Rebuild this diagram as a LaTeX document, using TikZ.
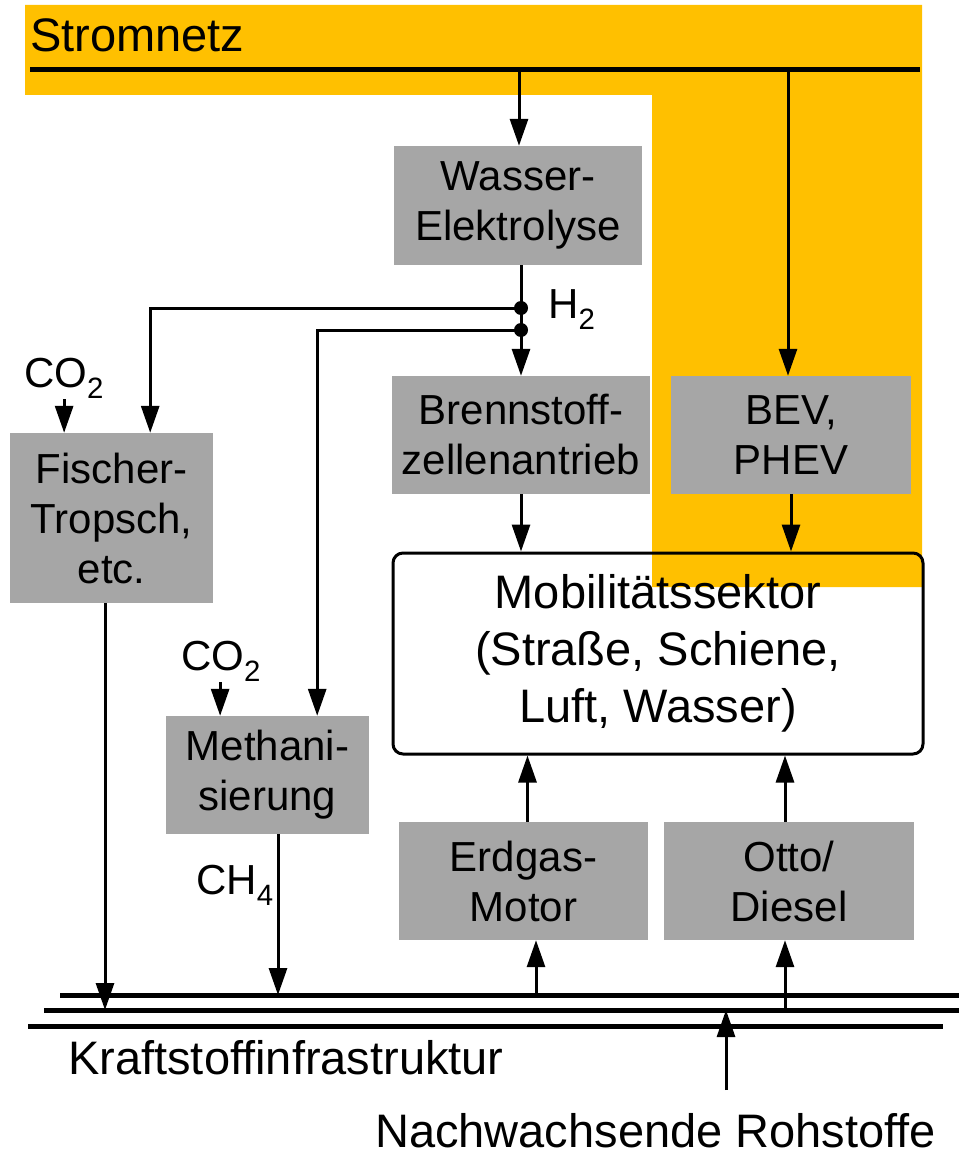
\documentclass[tikz,border=0pt]{standalone}
\usepackage{fontspec}
\setmainfont{Liberation Sans}
\usetikzlibrary{arrows.meta}
\definecolor{stromgelb}{HTML}{FFC000}
\definecolor{kastengrau}{HTML}{A6A6A6}

\begin{document}
\begin{tikzpicture}[x=1pt, y=-1pt,
  kasten/.style={fill=kastengrau, align=center, inner sep=0pt, font=\fontsize{42}{50}\selectfont},
  pfeil/.style={line width=3pt, -{Triangle[length=27pt,width=18pt]}},
  linie/.style={line width=3pt},
  schiene/.style={line width=5pt},
  marke/.style={inner sep=0pt, font=\fontsize{42}{50}\selectfont},
  gross/.style={inner sep=0pt, font=\fontsize{47}{57}\selectfont}]
\useasboundingbox (0,0) rectangle (959,1158);
\fill[stromgelb] (25,5) -- (922,5) -- (922,587) -- (652,587) -- (652,95) -- (25,95) -- cycle;
\node[gross, anchor=base west] (stromnetz) at (30,52) {Stromnetz};
\coordinate (netzw) at (30,70);
\coordinate (netze) at (920,70);
\draw[schiene] (netzw) -- (netze);

% Kaesten
\node[kasten, minimum width=248, minimum height=119] (elektrolyse) at (518,205.5) {Wasser-\\Elektrolyse};
\node[kasten, minimum width=258, minimum height=118] (brennstoff) at (521,435) {Brennstoff-\\zellenantrieb};
\node[kasten, minimum width=240, minimum height=118] (bev) at (791,435) {BEV,\\PHEV};
\node[kasten, minimum width=203, minimum height=170] (fischer) at (111.5,518) {Fischer-\\Tropsch,\\etc.};
\node[kasten, minimum width=203, minimum height=118] (methan) at (267.5,775) {Methani-\\sierung};
\node[kasten, minimum width=249, minimum height=118] (erdgas) at (523.5,881) {Erdgas-\\Motor};
\node[kasten, minimum width=250, minimum height=118] (otto) at (789,881) {Otto/\\Diesel};
\node[draw, line width=3pt, rounded corners=10pt, minimum width=530, minimum height=201,
  align=center, font=\fontsize{47}{57}\selectfont] (mobil) at (658,653.5)
  {Mobilitätssektor\\(Straße, Schiene,\\Luft, Wasser)};

% Beschriftungen
\node[marke, anchor=base west] (h2) at (548,318) {H\textsubscript{2}};
\node[marke, anchor=base west] (co2fischer) at (24,387) {CO\textsubscript{2}};
\node[marke, anchor=base west] (co2methan) at (181,670) {CO\textsubscript{2}};
\node[marke, anchor=base east] (ch4) at (274,894) {CH\textsubscript{4}};
\node[gross, anchor=base west] (kraftstoff) at (68,1074) {Kraftstoffinfrastruktur};
\node[gross, anchor=base west] (nawaro) at (375,1147) {Nachwachsende Rohstoffe};

% Kraftstoffschienen
\coordinate (schiene1w) at (60,995);
\coordinate (schiene1e) at (959,995);
\coordinate (schiene2w) at (44,1010);
\coordinate (schiene2e) at (959,1010);
\coordinate (schiene3w) at (28,1026);
\coordinate (schiene3e) at (943,1026);
\draw[schiene] (schiene1w) -- (schiene1e);
\draw[schiene] (schiene2w) -- (schiene2e);
\draw[schiene] (schiene3w) -- (schiene3e);

% Strom
\draw[pfeil] ([xshift=1pt]elektrolyse.north |- netzw) -- ([xshift=1pt]elektrolyse.north);
\draw[pfeil] ([xshift=-3pt]bev.north |- netzw) -- ([xshift=-3pt]bev.north);

% Wasserstoff
\coordinate (h2oben) at (521,308);
\coordinate (h2unten) at (521,330);
\draw[linie] (elektrolyse.south -| h2oben) -- (h2oben);
\draw[pfeil] (h2oben) -- (h2oben |- brennstoff.north);
\draw[pfeil] (h2oben) -| ([xshift=-63pt]fischer.north east);
\draw[pfeil] (h2unten) -| ([xshift=-52pt]methan.north east);
\fill (h2oben) circle (7pt);
\fill (h2unten) circle (7pt);

% CO2
\draw[pfeil] (co2fischer.south) -- (co2fischer.south |- fischer.north);
\draw[pfeil] ([xshift=-1pt]co2methan.south) -- ([xshift=-1pt]co2methan.south |- methan.north);

% Mobilitaet
\draw[pfeil] (brennstoff.south) -- (brennstoff.south |- mobil.north);
\draw[pfeil] (bev.south) -- (bev.south |- mobil.north);
\draw[pfeil] ([xshift=4pt]erdgas.north) -- ([xshift=4pt]erdgas.north |- mobil.south);
\draw[pfeil] ([xshift=-4pt]otto.north) -- ([xshift=-4pt]otto.north |- mobil.south);

% Kraftstoffe
\draw[pfeil] ([xshift=-6.5pt]fischer.south) -- ([xshift=-6.5pt]fischer.south |- schiene2w);
\draw[pfeil] ([xshift=10.5pt]methan.south) -- ([xshift=10.5pt]methan.south |- schiene1w);
\draw[pfeil] ([xshift=12.5pt]erdgas.south |- schiene1w) -- ([xshift=12.5pt]erdgas.south);
\draw[pfeil] ([xshift=-4pt]otto.south |- schiene2w) -- ([xshift=-4pt]otto.south);
\coordinate (nawarofuss) at (726,1090);
\draw[pfeil] (nawarofuss) -- (nawarofuss |- schiene2w);
\end{tikzpicture}
\end{document}
